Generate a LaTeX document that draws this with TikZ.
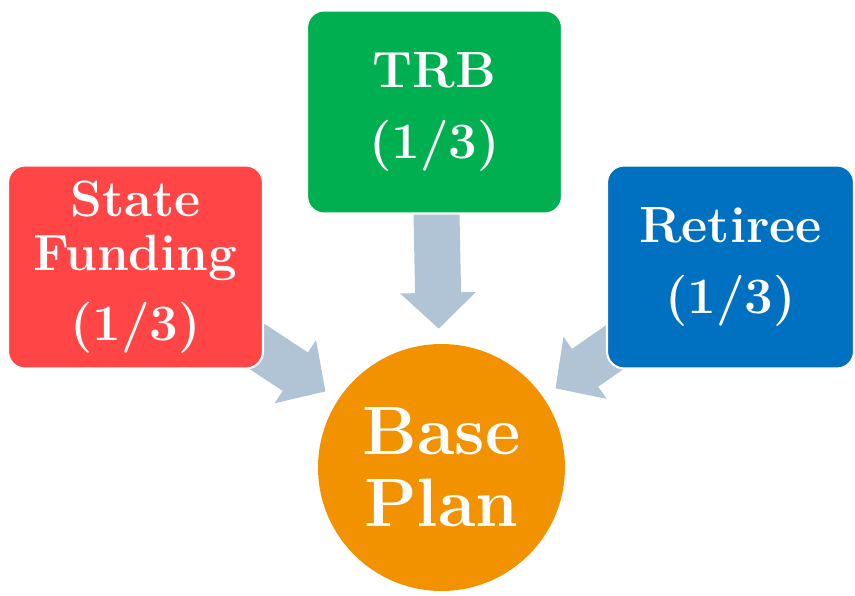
\documentclass[tikz,border=0pt]{standalone}
\usepackage{tikz}
\usetikzlibrary{arrows.meta, backgrounds}
\definecolor{boxred}{RGB}{255,69,69}
\definecolor{boxgreen}{RGB}{0,176,80}
\definecolor{boxblue}{RGB}{0,112,192}
\definecolor{planorange}{RGB}{243,146,0}
\definecolor{arrowgray}{RGB}{176,196,214}
\tikzstyle{share} = [draw=white, line width=1.2pt, rounded corners=0.34cm, minimum height=4.06cm, text=white, align=center, inner sep=0pt, font=\fontsize{29}{31}\selectfont\bfseries]
\tikzstyle{feed} = [draw=arrowgray, line width=0.92cm, -{Triangle[length=0.72cm,width=1.5cm,line width=2pt]}, shorten >=0.3cm, shorten <=-0.4cm]

\begin{document}
\begin{tikzpicture}[x=0.02cm, y=-0.02cm]
    \useasboundingbox (0,0) rectangle (855,595);
    \node[share, fill=boxred, minimum width=5.1cm] (state) at (135.5,267) {State\\Funding\\[9pt](1/3)};
    \node[share, fill=boxgreen, minimum width=5.1cm] (trb) at (434.5,112) {TRB\\[9pt](1/3)};
    \node[share, fill=boxblue, minimum width=4.94cm] (retiree) at (730.5,267) {Retiree\\[9pt](1/3)};
    \node[circle, fill=planorange, minimum size=4.94cm, inner sep=0pt, text=white, align=center, font=\fontsize{39}{41}\selectfont\bfseries] (base) at (441.5,467.5) {Base\\Plan};
    \begin{scope}[on background layer]
      \draw[feed] (state) -- (base);
      \draw[feed] (trb) -- (base);
      \draw[feed] (retiree) -- (base);
    \end{scope}
\end{tikzpicture}
\end{document}
